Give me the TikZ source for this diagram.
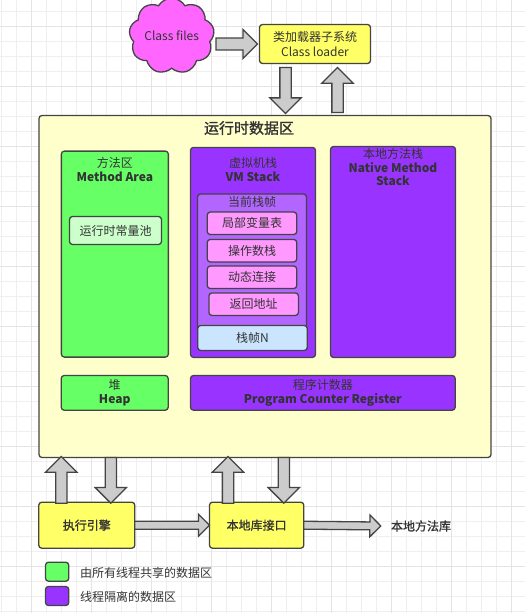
\documentclass[tikz,border=0pt]{standalone}
\usepackage{fontspec}
\setmainfont{Noto Sans CJK SC}
\newfontfamily\cjkmedium[FakeBold=1.2]{Noto Sans CJK SC}
\usetikzlibrary{shapes.symbols,shapes.arrows,calc}

\definecolor{edge}{HTML}{444444}
\definecolor{ink}{HTML}{333333}
\definecolor{cYellow}{HTML}{FFFF66}
\definecolor{cCream}{HTML}{FFFFCC}
\definecolor{cGreen}{HTML}{66FF66}
\definecolor{cPool}{HTML}{CCFFCC}
\definecolor{cPurple}{HTML}{9933FF}
\definecolor{cFrame}{HTML}{B266FF}
\definecolor{cPink}{HTML}{FF99FF}
\definecolor{cBlue}{HTML}{CCE5FF}
\definecolor{cMagenta}{HTML}{FF66FF}
\definecolor{cArrow}{HTML}{CCCCCC}
\definecolor{gridMinor}{HTML}{EFEFEF}
\definecolor{gridMajor}{HTML}{E4E4E4}

% block arrow from one point to another, drawn as a rotated single-arrow node
\newcommand\fatarrow[3][]{%
  \path let \p1=(#2), \p2=(#3),
            \n1={atan2(\y2-\y1,\x2-\x1)},
            \n2={veclen(\x2-\x1,\y2-\y1)} in
    node[blockarrow,#1,minimum height=\n2,rotate=\n1,anchor=tail] at (\p1) {};%
}

\begin{document}
\begin{tikzpicture}[
  x=1pt, y=-1pt,
  font=\fontsize{12}{13.5}\selectfont,
  every node/.style={text=ink},
  strongtext/.style={font=\fontsize{12}{13.5}\selectfont\cjkmedium},
  box/.style={draw=edge, line width=1.3pt, rounded corners=3pt,
              inner sep=0pt, outer sep=0pt, align=center},
  blockarrow/.style={single arrow, draw=edge, fill=cArrow, line width=1.3pt,
              inner xsep=0pt, inner ysep=5pt, outer sep=0pt,
              single arrow head extend=10pt, single arrow tip angle=90},
  slimarrow/.style={inner ysep=3.3pt, single arrow head extend=7pt},
  midarrow/.style={inner ysep=5.3pt, single arrow head extend=8.5pt},
  gridline/.style={draw=gridMinor, line width=0.8pt},
  gridbold/.style={draw=gridMajor, line width=1.2pt}
]
\useasboundingbox (0,0) rectangle (525,613);
\fill[white] (0,0) rectangle (525,613);

% background grid
\foreach \gx in {1.5,16.5,...,525} \draw[gridline] (\gx,0) -- (\gx,613);
\foreach \gy in {11.5,26.5,...,613} \draw[gridline] (0,\gy) -- (525,\gy);
\foreach \gx in {31.5,91.5,...,525} \draw[gridbold] (\gx,0) -- (\gx,613);
\foreach \gy in {26.5,86.5,...,613} \draw[gridbold] (0,\gy) -- (525,\gy);

% class loading
\node[cloud, cloud puffs=9, cloud puff arc=120, aspect=1.2, draw=edge,
      fill=cMagenta, line width=1.3pt, minimum width=78pt, minimum height=64pt,
      inner sep=0pt] (classfiles) at (171.7,36) {Class files};
\node[box, fill=cYellow, minimum width=111pt, minimum height=39pt]
      (loader) at (315,44) {类加载器子系统\\[1.5pt]Class loader};

% runtime data area
\node[box, fill=cCream, minimum width=452pt, minimum height=342pt]
      (runtime) at (265,286.5) {};
\node[font=\fontsize{15}{18}\selectfont\cjkmedium] (runtime-title) at (249,128) {运行时数据区};

% method area
\node[box, fill=cGreen, minimum width=107pt, minimum height=206pt]
      (method) at (114.85,254.1) {};
\node[align=center, inner sep=0pt] (method-title) at (114.85,169.5)
      {方法区\\\textbf{Method Area}};
\node[box, fill=cPool, minimum width=92pt, minimum height=28pt]
      (pool) at (115.5,230.5) {运行时常量池};

% VM stack
\node[box, fill=cPurple, minimum width=125pt, minimum height=210pt]
      (vmstack) at (253,252.4) {};
\node[align=center, inner sep=0pt] (vmstack-title) at (253,169.5)
      {虚拟机栈\\\textbf{VM Stack}};
\node[box, fill=cFrame, minimum width=109pt, minimum height=140pt]
      (frame) at (252,264) {};
\node[inner sep=0pt] (frame-title) at (252,201.7) {当前栈帧};
\node[box, fill=cPink, minimum width=89.5pt, minimum height=22.5pt]
      (locals) at (252,223.3) {局部变量表};
\node[box, fill=cPink, minimum width=89.5pt, minimum height=22.5pt]
      (operands) at (252,250.7) {操作数栈};
\node[box, fill=cPink, minimum width=89.5pt, minimum height=22.5pt]
      (dynlink) at (252,277.3) {动态连接};
\node[box, fill=cPink, minimum width=89.5pt, minimum height=22.5pt]
      (retaddr) at (253.7,304.2) {返回地址};
\node[box, fill=cBlue, minimum width=109.5pt, minimum height=25pt]
      (frameN) at (252.5,338) {栈帧N};

% native method stack
\node[box, fill=cPurple, minimum width=125pt, minimum height=211pt]
      (native) at (393,252) {};
\node[align=center, inner sep=0pt] (native-title) at (393,167.3)
      {本地方法栈\\\textbf{Native Method}\\\textbf{Stack}};

% heap and program counter
\node[box, fill=cGreen, minimum width=107pt, minimum height=34.7pt]
      (heap) at (114.7,392.85) {堆\\\textbf{Heap}};
\node[box, fill=cPurple, minimum width=264.7pt, minimum height=34.7pt]
      (pc) at (322.85,392.85) {程序计数器\\\textbf{Program Counter Register}};

% execution engine and native interface
\node[box, fill=cYellow, minimum width=96pt, minimum height=46pt, strongtext]
      (engine) at (86.8,525.2) {执行引擎};
\node[box, fill=cYellow, minimum width=94.3pt, minimum height=46pt, strongtext]
      (nif) at (256.65,525.2) {本地库接口};
\node[strongtext, inner sep=0pt] (lib) at (421,526) {本地方法库};

% legend
\node[box, fill=cGreen, minimum width=23.3pt, minimum height=19pt]
      (leg-shared) at (57.15,571.7) {};
\node[anchor=west, inner sep=0pt] (leg-shared-text) at (80,573) {由所有线程共享的数据区};
\node[box, fill=cPurple, minimum width=23.3pt, minimum height=19pt]
      (leg-private) at (57.15,596) {};
\node[anchor=west, inner sep=0pt] (leg-private-text) at (80,596.7) {线程隔离的数据区};

% arrow end points
\coordinate (cf-out)  at ($(classfiles.east |- loader.west)+(2,0)$);
\coordinate (ld-in)   at ($(loader.west)+(-2,0)$);
\coordinate (ld-top)  at ($(loader.south)+(-29.5,4)$);
\coordinate (ld-bot)  at ($(ld-top |- runtime.north)+(0,-2)$);
\coordinate (lu-top)  at ($(loader.south)+(22.5,4)$);
\coordinate (lu-bot)  at ($(lu-top |- runtime.north)+(0,-3)$);
\coordinate (eu-bot)  at ($(engine.north)+(-25.5,1)$);
\coordinate (eu-top)  at ($(eu-bot |- runtime.south)+(0,-1)$);
\coordinate (ed-bot)  at ($(engine.north)+(24,1)$);
\coordinate (ed-top)  at (ed-bot |- runtime.south);
\coordinate (nu-bot)  at ($(nif.north)+(-28.65,1)$);
\coordinate (nu-top)  at ($(nu-bot |- runtime.south)+(0,-1)$);
\coordinate (nd-bot)  at ($(nif.north)+(27.15,1)$);
\coordinate (nd-top)  at (nd-bot |- runtime.south);
\coordinate (lib-in)  at ($(lib.west)+(-10,0)$);

% block arrows
\fatarrow[midarrow]{cf-out}{ld-in}
\fatarrow{ld-top}{ld-bot}
\fatarrow{lu-bot}{lu-top}
\fatarrow{eu-bot}{eu-top}
\fatarrow{ed-top}{ed-bot}
\fatarrow{nu-bot}{nu-top}
\fatarrow{nd-top}{nd-bot}
\fatarrow[slimarrow]{engine.east}{nif.west}
\fatarrow[slimarrow]{nif.east}{lib-in}
\end{tikzpicture}
\end{document}
